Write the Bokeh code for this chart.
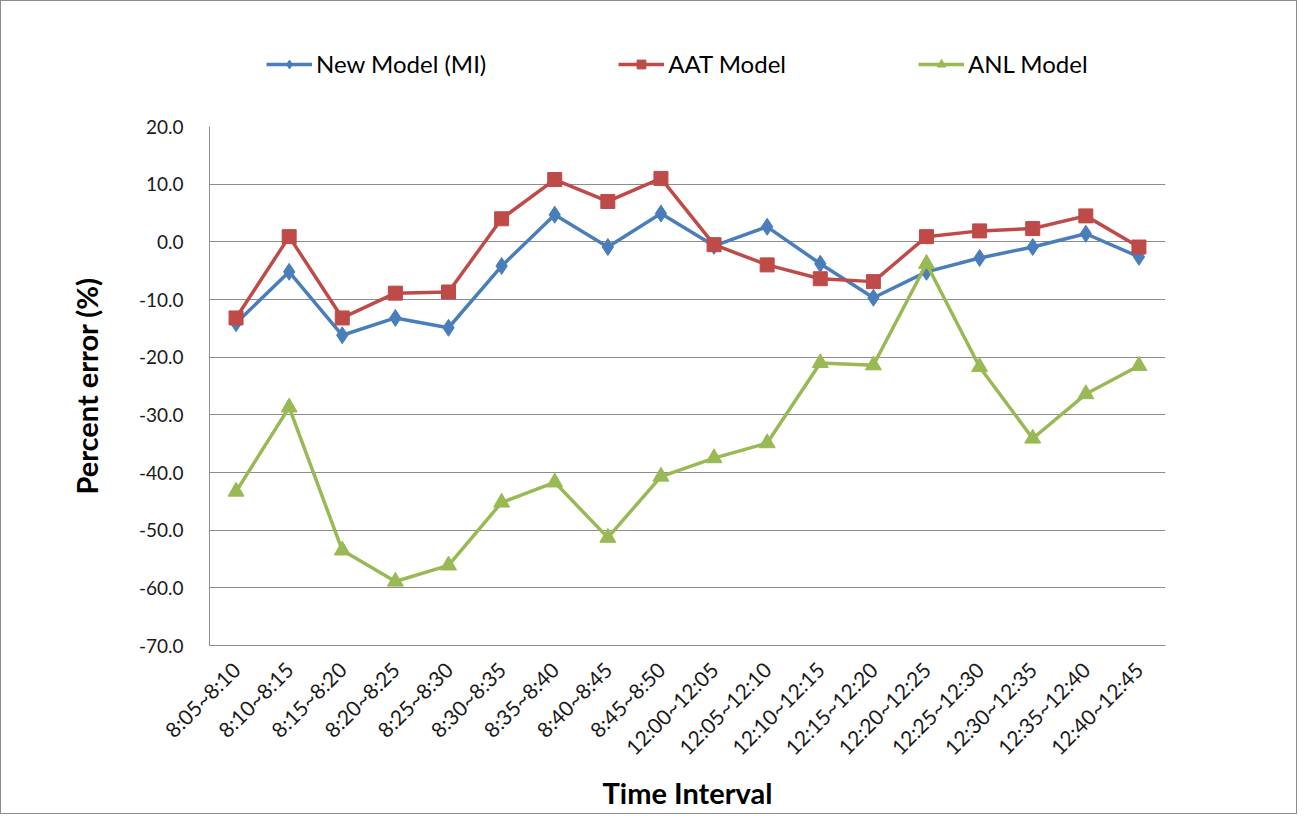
from bokeh.plotting import figure
from bokeh.layouts import column
from bokeh.models import FactorRange, Range1d, SingleIntervalTicker, NumeralTickFormatter, Legend, LegendItem
from bokeh.embed import file_html
from bokeh.resources import INLINE
import math

categories = ["8:05~8:10", "8:10~8:15", "8:15~8:20", "8:20~8:25", "8:25~8:30", "8:30~8:35",
              "8:35~8:40", "8:40~8:45", "8:45~8:50", "12:00~12:05", "12:05~12:10", "12:10~12:15",
              "12:15~12:20", "12:20~12:25", "12:25~12:30", "12:30~12:35", "12:35~12:40", "12:40~12:45"]
new_model = [-14.1, -5.2, -16.2, -13.2, -14.9, -4.2, 4.7, -0.9, 4.9, -0.7, 2.6, -3.8, -9.7, -5.2, -2.8, -0.9, 1.4, -2.6]
aat_model = [-13.2, 0.9, -13.2, -8.9, -8.7, 4.0, 10.8, 7.0, 11.0, -0.5, -4.0, -6.4, -6.9, 0.9, 1.9, 2.3, 4.5, -0.9]
anl_model = [-43.3, -28.7, -53.5, -58.9, -56.1, -45.2, -41.7, -51.3, -40.7, -37.5, -34.9, -21.0, -21.4, -3.8, -21.7, -34.1, -26.4, -21.5]
series_names = ["New Model (MI)", "AAT Model", "ANL Model"]

FONT = "Lato"
BLUE = "#4A7EBB"
RED = "#BE4B48"
GREEN = "#98B954"
STYLES = [(BLUE, "diamond", 17), (RED, "square", 14), (GREEN, "triangle", 16)]
SERIES = [new_model, aat_model, anl_model]

# ---- main chart ----
p = figure(width=1295, height=707, output_backend="svg", toolbar_location=None,
           x_range=FactorRange(*categories, range_padding=0), y_range=Range1d(-70, 20),
           min_border_left=208, min_border_right=131, min_border_top=20, min_border_bottom=168)
p.outline_line_color = None
p.background_fill_color = "white"
p.border_fill_color = "white"

p.xgrid.grid_line_color = None
p.ygrid.grid_line_color = "#8c8c8c"
p.ygrid.grid_line_width = 1

p.yaxis.ticker = SingleIntervalTicker(interval=10)
p.yaxis.formatter = NumeralTickFormatter(format="0.0")
for ax in (p.xaxis[0], p.yaxis[0]):
    ax.axis_line_color = "#8c8c8c"
    ax.major_tick_line_color = None
    ax.minor_tick_line_color = None
    ax.major_label_text_font = FONT
    ax.major_label_text_color = "#1a1a1a"
    ax.axis_label_text_font = FONT
    ax.axis_label_text_font_style = "bold"
    ax.axis_label_text_font_size = "29px"
    ax.axis_label_text_color = "black"

p.yaxis.major_label_text_font_size = "19px"
p.xaxis.major_label_text_font_size = "21px"
p.yaxis.axis_label = "Percent error (%)"
p.yaxis.major_label_standoff = 20
p.yaxis.axis_label_standoff = 32
p.xaxis.axis_label = "Time Interval"
p.xaxis.major_label_orientation = math.pi / 4
p.xaxis.major_label_standoff = 14
p.xaxis.axis_label_standoff = 4

for vals, (col, mk, sz) in zip(SERIES, STYLES):
    p.line(categories, vals, line_color=col, line_width=3.5)
    p.scatter(categories, vals, marker=mk, size=sz, fill_color=col, line_color=col)

# ---- legend strip above the chart ----
top = figure(width=1295, height=105, output_backend="svg", toolbar_location=None,
             x_range=FactorRange(*categories, range_padding=0), y_range=Range1d(-70, 20),
             min_border=0, x_axis_location=None, y_axis_location=None)
top.outline_line_color = None
top.grid.grid_line_color = None
items = []
for name, vals, (col, mk, sz) in zip(series_names, SERIES, STYLES):
    rl = top.line(categories, vals, line_color=col, line_width=3.5, visible=False)
    rm = top.scatter(categories, vals, marker=mk, size=sz, fill_color=col, line_color=col, visible=False)
    items.append(LegendItem(label=name, renderers=[rl, rm]))

legend = Legend(items=items, orientation="horizontal", location=(57, 28), spacing=132,
                padding=0, margin=0, border_line_color=None, background_fill_alpha=0,
                glyph_width=46, glyph_height=22, label_standoff=4,
                label_text_font=FONT, label_text_font_size="24px", label_text_color="black")
top.add_layout(legend, "center")

layout = column(top, p, spacing=0)
layout.styles = {"border": "1px solid #8c8c8c", "background-color": "white"}

open("out.html", "w").write(file_html(layout, INLINE))
